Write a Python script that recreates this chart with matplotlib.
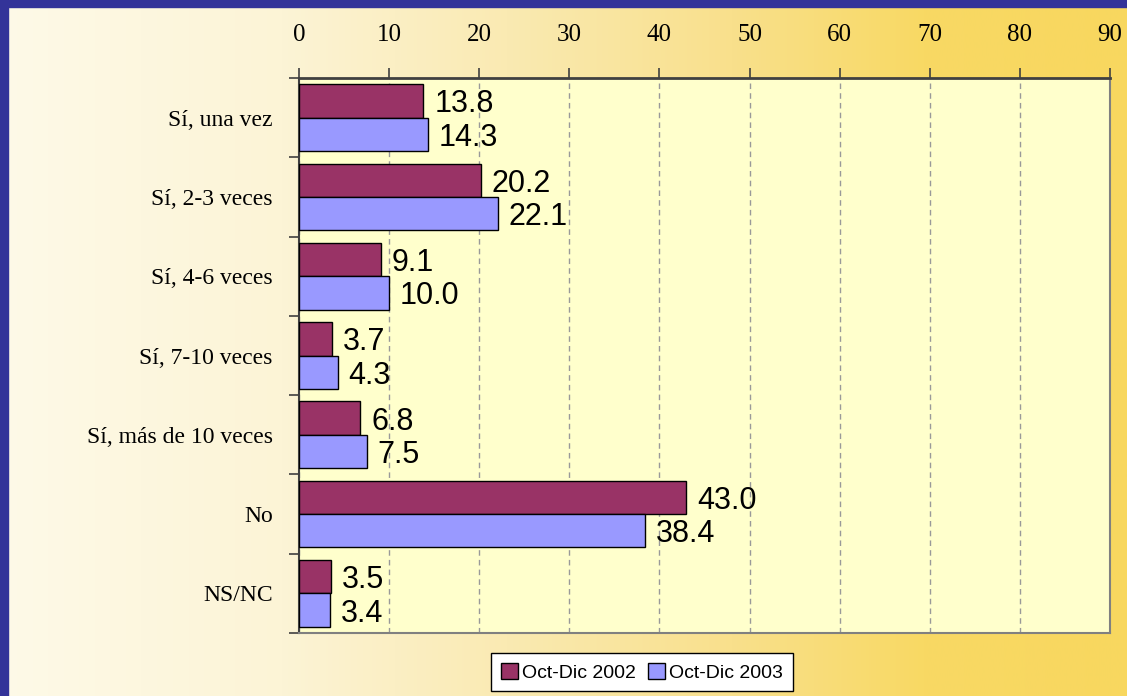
import numpy as np
import matplotlib.pyplot as plt
from matplotlib.patches import Rectangle, Patch

# data
categories = ["Sí, una vez", "Sí, 2-3 veces", "Sí, 4-6 veces", "Sí, 7-10 veces",
              "Sí, más de 10 veces", "No", "NS/NC"]
values_2002 = [13.8, 20.2, 9.1, 3.7, 6.8, 43.0, 3.5]
values_2003 = [14.3, 22.1, 10.0, 4.3, 7.5, 38.4, 3.4]
series_names = ["Oct-Dic 2002", "Oct-Dic 2003"]
x_ticks = list(range(0, 100, 10))

color_2002 = "#993366"
color_2003 = "#9999FF"

W, H = 1127, 696
fig = plt.figure(figsize=(W / 100, H / 100), dpi=100)

# background gradient (cream on the left, yellow on the right)
stop_pos = [0.0, 0.25, 0.45, 0.65, 0.82, 1.0]
stop_col = np.array([[254, 250, 232], [252, 244, 214], [250, 234, 178],
                     [249, 224, 140], [248, 217, 100], [248, 215, 95]]) / 255.0
xs = np.linspace(0, 1, 512)
grad = np.stack([np.interp(xs, stop_pos, stop_col[:, k]) for k in range(3)], axis=-1)
bg = fig.add_axes([0, 0, 1, 1], zorder=-10)
bg.imshow(grad[np.newaxis, :, :], aspect="auto", extent=[0, 1, 0, 1])
bg.set_axis_off()

# dark blue frame on top and left
fig.patches.append(Rectangle((0, 1 - 7 / H), 1, 7 / H, transform=fig.transFigure,
                             color="#333399", zorder=5))
fig.patches.append(Rectangle((0, 0), 8 / W, 1, transform=fig.transFigure,
                             color="#333399", zorder=5))

ax = fig.add_axes([299 / W, 1 - 633 / H, 811 / W, 555 / H])
ax.set_facecolor("#FFFFCC")

y = np.arange(len(categories))
h = 0.42
ax.barh(y - h / 2, values_2002, height=h, color=color_2002, edgecolor="black",
        linewidth=1, zorder=3)
ax.barh(y + h / 2, values_2003, height=h, color=color_2003, edgecolor="black",
        linewidth=1, zorder=3)

for yy, v in zip(y - h / 2, values_2002):
    ax.text(v + 1.2, yy, f"{v:.1f}", va="center_baseline", ha="left", fontsize=22,
            family="Liberation Sans", zorder=4)
for yy, v in zip(y + h / 2, values_2003):
    ax.text(v + 1.2, yy, f"{v:.1f}", va="center_baseline", ha="left", fontsize=22,
            family="Liberation Sans", zorder=4)

ax.set_xlim(0, 90)
ax.set_ylim(len(categories) - 0.5, -0.5)
ax.xaxis.tick_top()
ax.set_xticks(x_ticks)
ax.set_xticklabels([str(t) for t in x_ticks], family="Liberation Serif", fontsize=18)
ax.tick_params(axis="x", direction="out", length=7, width=1.2, color="#404040", pad=16)
ax.xaxis.grid(True, linestyle=(0, (4, 3)), color="#999999", linewidth=1, zorder=1)

ax.set_yticks(np.arange(len(categories) + 1) - 0.5)
ax.set_yticklabels([])
ax.set_yticks(y, minor=True)
ax.set_yticklabels(categories, minor=True, family="Liberation Serif", fontsize=17)
ax.tick_params(axis="y", which="major", direction="out", length=7, width=1.2,
               color="#404040")
ax.tick_params(axis="y", which="minor", length=0, pad=19)

ax.spines["top"].set_color("#404040")
ax.spines["top"].set_linewidth(2)
ax.spines["left"].set_color("#404040")
ax.spines["left"].set_linewidth(1.5)
ax.spines["right"].set_color("#808080")
ax.spines["right"].set_linewidth(1.5)
ax.spines["bottom"].set_color("#808080")
ax.spines["bottom"].set_linewidth(1.5)

handles = [Patch(facecolor=color_2002, edgecolor="black", label=series_names[0]),
           Patch(facecolor=color_2003, edgecolor="black", label=series_names[1])]
leg = fig.legend(handles=handles, loc="upper center", bbox_to_anchor=(642 / W, 1 - 653 / H),
                 ncol=2, frameon=True, fancybox=False, edgecolor="black",
                 framealpha=1, facecolor="white", prop={"family": "Liberation Sans", "size": 14},
                 handlelength=0.9, handleheight=0.9, columnspacing=0.6,
                 handletextpad=0.2, borderpad=0.5, borderaxespad=0)
leg.get_frame().set_linewidth(1)

fig.savefig("out.png", dpi=100)
